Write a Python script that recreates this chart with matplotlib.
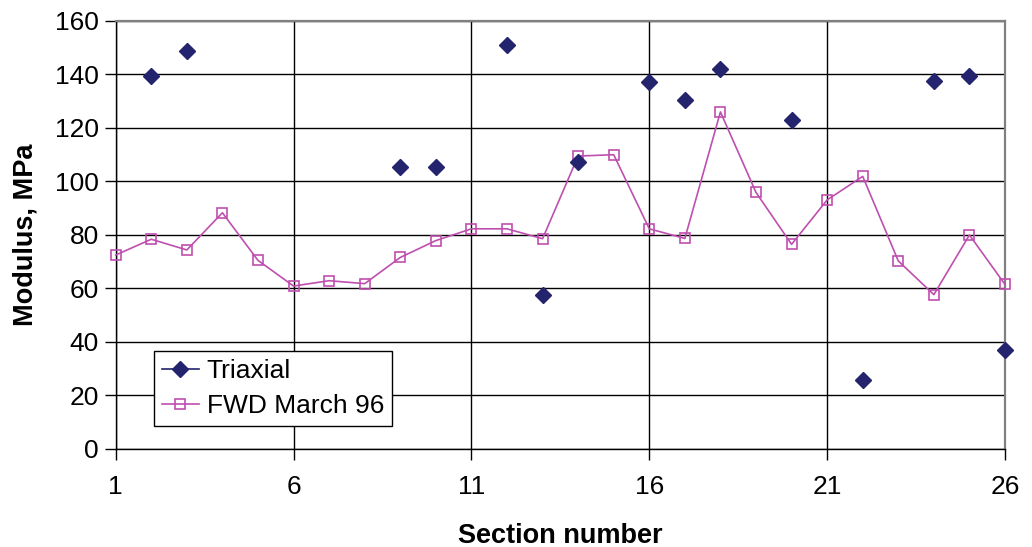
import matplotlib
matplotlib.use("Agg")
import matplotlib.pyplot as plt
from matplotlib.lines import Line2D

plt.rcParams['font.family'] = ['Liberation Sans', 'DejaVu Sans']

sections = list(range(1, 27))
fwd = [72.4, 78.3, 74.3, 88.2, 70.4, 60.8, 62.8, 61.7, 71.5, 77.8, 82.2, 82.2, 78.5,
       109.4, 109.9, 82.2, 78.6, 125.9, 95.8, 76.4, 93.0, 101.8, 70.2, 57.6, 79.9, 61.4]
tri_x = [2, 3, 9, 10, 12, 13, 14, 16, 17, 18, 20, 22, 24, 25, 26]
tri_y = [139.3, 148.6, 105.4, 105.2, 150.8, 57.3, 107.3, 137.2, 130.2, 141.9, 122.9, 25.6, 137.3, 139.4, 36.8]
xticks = [1, 6, 11, 16, 21, 26]
yticks = list(range(0, 161, 20))

navy = '#23236E'
mag = '#BF4FAF'

fig = plt.figure(figsize=(10.32, 5.47), dpi=100)
ax = fig.add_axes([115.7/1032, 1 - 448.7/547, (1005 - 115.7)/1032, (448.7 - 20.7)/547])

ax.plot(sections, fwd, color=mag, lw=1.2, marker='s', ms=7, mfc='none', mec=mag, mew=1.2, zorder=3, clip_on=False)
ax.plot(tri_x, tri_y, ls='none', marker='D', ms=8.5, color=navy, zorder=4, clip_on=False)

ax.set_xlim(1, 26)
ax.set_ylim(0, 160)
ax.set_xticks(xticks)
ax.set_yticks(yticks)
ax.grid(True, color='black', lw=1.0)
ax.set_axisbelow(True)
for s in ['left', 'bottom']:
    ax.spines[s].set_color('black')
    ax.spines[s].set_linewidth(1.0)
for s in ['top', 'right']:
    ax.spines[s].set_color('#808080')
    ax.spines[s].set_linewidth(1.6)
ax.tick_params(axis='both', direction='out', length=8, width=1, labelsize=19, colors='black')
ax.tick_params(axis='x', pad=11)
ax.tick_params(axis='y', pad=4)

ax.set_xlabel('Section number', fontsize=19.5, fontweight='bold', labelpad=17)
ax.set_ylabel('Modulus, MPa', fontsize=19.5, fontweight='bold', labelpad=12)

handles = [Line2D([], [], color=navy, marker='D', ms=8.5, lw=1.2),
           Line2D([], [], color=mag, marker='s', ms=7, mfc='none', mew=1.2, lw=1.2)]
leg = ax.legend(handles, ['Triaxial', 'FWD March 96'], loc='lower left',
                bbox_to_anchor=((154 - 115.7) / (1005 - 115.7), (448.7 - 425.7) / 428),
                fontsize=19, frameon=True, fancybox=False, framealpha=1,
                edgecolor='black', borderpad=0.3, handlelength=1.4, handletextpad=0.3,
                labelspacing=0.4, borderaxespad=0)
leg.get_frame().set_linewidth(1.0)

fig.savefig('out.png', dpi=100)
